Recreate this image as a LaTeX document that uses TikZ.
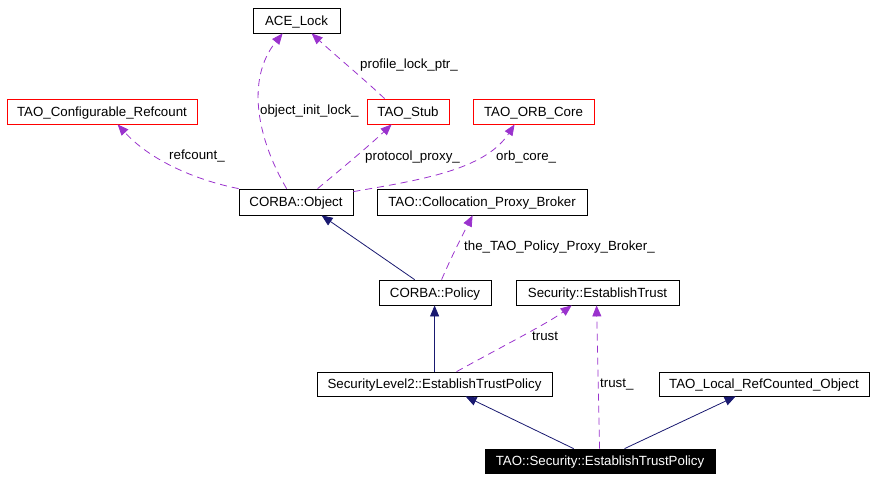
\documentclass[tikz,border=0pt]{standalone}
\usepackage{fontspec}
\setmainfont{Liberation Sans}
\usetikzlibrary{arrows.meta,calc}
\definecolor{inhcol}{HTML}{191970}
\definecolor{usecol}{HTML}{9A32CD}
\tikzset{
  box/.style={draw=black, line width=0.8pt, fill=white, inner sep=0pt,
    text height=10.5pt, text depth=1.5pt, font=\fontsize{13.3}{16}\selectfont},
  redbox/.style={box, draw=red},
  mainbox/.style={box, fill=black, text=white},
  lbl/.style={anchor=base west, inner sep=0pt, font=\fontsize{13.3}{16}\selectfont},
  inh/.style={draw=inhcol, line width=0.8pt, -{Triangle[length=11pt,width=9pt,fill=inhcol]}},
  use/.style={draw=usecol, line width=0.8pt, dash pattern=on 7pt off 5pt,
    -{Triangle[length=11pt,width=9pt,fill=usecol]}}
}
\begin{document}
\begin{tikzpicture}[x=1pt,y=-1pt]
\useasboundingbox (0,0) rectangle (876,480);
% nodes
\node[box, minimum width=87pt, minimum height=25pt] (ace) at (296.5,20.5) {ACE\_Lock};
\node[redbox, minimum width=190pt, minimum height=25pt] (refc) at (102,111.5) {TAO\_Configurable\_Refcount};
\node[redbox, minimum width=82pt, minimum height=25pt] (stub) at (408,111.5) {TAO\_Stub};
\node[redbox, minimum width=121pt, minimum height=25pt] (orb) at (533.5,111.5) {TAO\_ORB\_Core};
\node[box, minimum width=114pt, minimum height=26pt] (obj) at (296,202) {CORBA::Object};
\node[box, minimum width=210pt, minimum height=26pt] (coll) at (482,202) {TAO::Collocation\_Proxy\_Broker};
\node[box, minimum width=112pt, minimum height=25pt] (pol) at (435,292.5) {CORBA::Policy};
\node[box, minimum width=163pt, minimum height=25pt] (est) at (597.5,292.5) {Security::EstablishTrust};
\node[box, minimum width=235pt, minimum height=24pt] (sl2) at (434.5,384) {SecurityLevel2::EstablishTrustPolicy};
\node[box, minimum width=210pt, minimum height=24pt] (loc) at (764,384) {TAO\_Local\_RefCounted\_Object};
\node[mainbox, minimum width=230pt, minimum height=24pt] (tao) at (600,461) {TAO::Security::EstablishTrustPolicy};
% use relations
\draw[use] (obj.north west) .. controls (195,180) and (150,160) .. ($(refc.south west)+(111,0)$);
\node[lbl] (l1) at (169,159.5) {refcount\_};
\draw[use] ($(obj.north west)+(48,0)$) .. controls (258,140) and (245,80) .. ($(ace.south west)+(30,0)$);
\node[lbl] (l2) at (260,114.5) {object\_init\_lock\_};
\draw[use] ($(stub.north west)+(18,0)$) .. controls (365,80) and (335,55) .. ($(ace.south west)+(59,0)$);
\node[lbl] (l3) at (360,68.5) {profile\_lock\_ptr\_};
\draw[use] ($(obj.north west)+(79,0)$) .. controls (340,170) and (370,145) .. ($(stub.south west)+(25,0)$);
\node[lbl] (l4) at (365,160) {protocol\_proxy\_};
\draw[use] ($(obj.north east)+(0,3)$) .. controls (420,180) and (485,170) .. ($(orb.south west)+(42,0)$);
\node[lbl] (l5) at (496,160) {orb\_core\_};
\draw[use] ($(pol.north west)+(63,0)$) .. controls (450,260) and (460,240) .. ($(coll.south west)+(96,0)$);
\node[lbl] (l6) at (464,250.5) {the\_TAO\_Policy\_Proxy\_Broker\_};
\draw[use] ($(sl2.north west)+(140,0)$) .. controls (505,345) and (550,322) .. ($(est.south west)+(56,0)$);
\node[lbl] (l7) at (532,340.5) {trust};
\draw[use] ($(tao.north west)+(115,0)$) -- ($(est.south west)+(81,0)$);
\node[lbl] (l8) at (600,387) {trust\_};
% inheritance
\draw[inh] ($(pol.north west)+(36,0)$) -- ($(obj.south west)+(83,0)$);
\draw[inh] ($(sl2.north west)+(118,0)$) -- ($(pol.south west)+(56,0)$);
\draw[inh] ($(tao.north west)+(89,0)$) -- ($(sl2.south west)+(149,0)$);
\draw[inh] ($(tao.north west)+(140,0)$) -- ($(loc.south west)+(77,0)$);
\end{tikzpicture}
\end{document}
